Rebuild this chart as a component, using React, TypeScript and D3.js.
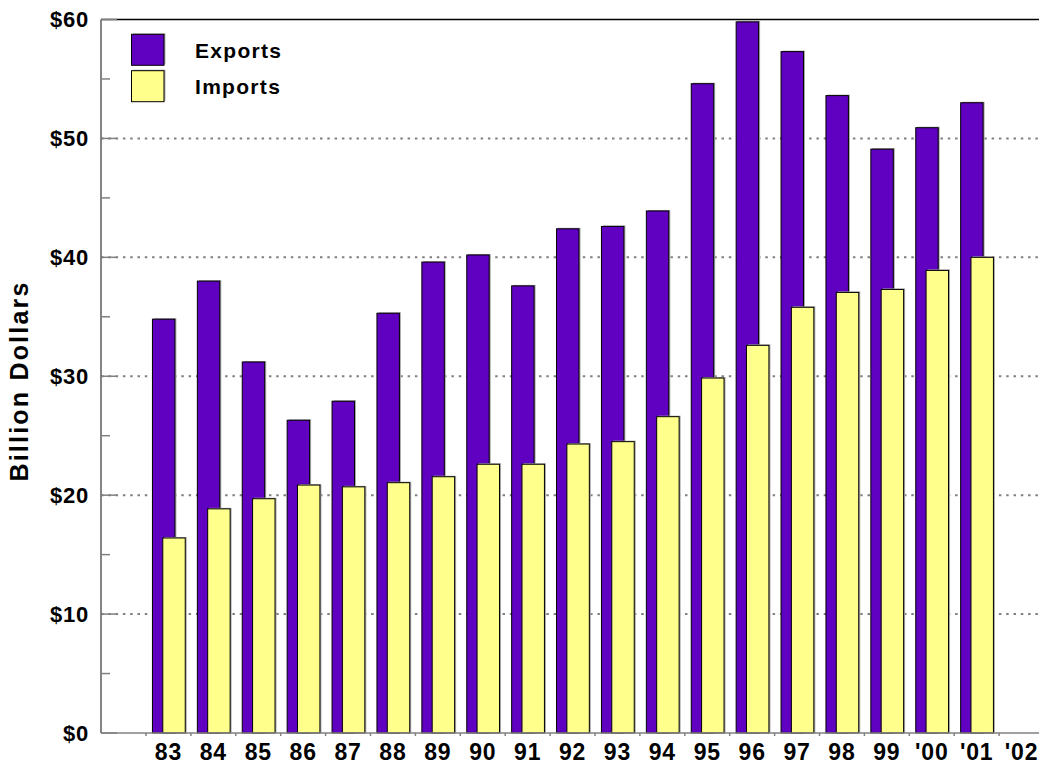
import * as d3 from "d3";
import { useEffect, useRef } from "react";

const years = ["83", "84", "85", "86", "87", "88", "89", "90", "91", "92", "93", "94", "95", "96", "97", "98", "99", "'00", "'01", "'02"];
// billion dollars; '02 has no data
const exportsVals: (number | null)[] = [34.8, 38.0, 31.2, 26.3, 27.9, 35.3, 39.6, 40.2, 37.6, 42.4, 42.6, 43.9, 54.6, 59.8, 57.3, 53.6, 49.1, 50.9, 53.0, null];
const importsVals: (number | null)[] = [16.4, 18.85, 19.7, 20.85, 20.7, 21.05, 21.55, 22.6, 22.6, 24.3, 24.5, 26.6, 29.85, 32.6, 35.8, 37.05, 37.3, 38.9, 40.0, null];
const yTicks = [0, 10, 20, 30, 40, 50, 60];
const yMinorTicks = [5, 15, 25, 35, 45, 55];
const seriesNames = ["Exports", "Imports"];
const seriesColors = ["#6000c0", "#ffff8c"];

const W = 1039;
const H = 766;
const FONT = "'Liberation Sans', Arial, Helvetica, sans-serif";

const App = () => {
  const ref = useRef<SVGSVGElement | null>(null);

  useEffect(() => {
    if (!ref.current) return;
    const svg = d3.select(ref.current);
    svg.selectAll("*").remove();

    const left = 101;
    const top = 19.5;
    const bottom = 733;

    svg.append("rect").attr("width", W).attr("height", H).attr("fill", "#fff");

    const x = d3.scaleBand<string>().domain(years).range([146, 1044]).padding(0);
    const y = d3.scaleLinear().domain([0, 60]).range([bottom, top]);
    const bw = x.bandwidth();

    // dotted grid
    svg
      .append("g")
      .selectAll("line")
      .data(yTicks.filter((d) => d > 0 && d < 60))
      .join("line")
      .attr("x1", left)
      .attr("x2", W)
      .attr("y1", (d) => y(d))
      .attr("y2", (d) => y(d))
      .attr("stroke", "#808080")
      .attr("stroke-width", 2)
      .attr("stroke-dasharray", "2.5,4.8");

    // bars (imports overlap the right part of exports)
    const barW = bw * 0.5;
    const off = bw * 0.23;
    const series = [exportsVals, importsVals];
    series.forEach((vals, si) => {
      const data = years
        .map((yr, i) => ({ yr, v: vals[i] }))
        .filter((d) => d.v != null) as { yr: string; v: number }[];
      const bx = (d: { yr: string }) => x(d.yr)! + bw / 2 - 16 + si * off;
      const g = svg.append("g");
      g.selectAll("rect.shadow")
        .data(data)
        .join("rect")
        .attr("class", "shadow")
        .attr("x", (d) => bx(d) + 1.5)
        .attr("y", (d) => y(d.v) - 1)
        .attr("width", barW)
        .attr("height", (d) => bottom - y(d.v) + 1)
        .attr("fill", "#a8a8a8");
      g.selectAll("rect.bar")
        .data(data)
        .join("rect")
        .attr("class", "bar")
        .attr("x", (d) => bx(d))
        .attr("y", (d) => y(d.v))
        .attr("width", barW)
        .attr("height", (d) => bottom - y(d.v))
        .attr("fill", seriesColors[si])
        .attr("stroke", "#000")
        .attr("stroke-width", 1);
    });

    // frame: left axis and top border
    svg
      .append("line")
      .attr("x1", left)
      .attr("x2", W)
      .attr("y1", top)
      .attr("y2", top)
      .attr("stroke", "#000")
      .attr("stroke-width", 1.5);
    svg
      .append("line")
      .attr("x1", left)
      .attr("x2", left)
      .attr("y1", top)
      .attr("y2", bottom)
      .attr("stroke", "#333")
      .attr("stroke-width", 1.2);

    // x axis baseline with small ticks at band edges
    svg
      .append("line")
      .attr("x1", left)
      .attr("x2", W)
      .attr("y1", bottom)
      .attr("y2", bottom)
      .attr("stroke", "#808080")
      .attr("stroke-width", 1.5);
    svg
      .append("g")
      .selectAll("line")
      .data(years)
      .join("line")
      .attr("x1", (d) => x(d)!)
      .attr("x2", (d) => x(d)!)
      .attr("y1", bottom)
      .attr("y2", bottom + 3)
      .attr("stroke", "#808080")
      .attr("stroke-width", 1.5);

    // y ticks, major and minor
    svg
      .append("g")
      .selectAll("line")
      .data(yTicks)
      .join("line")
      .attr("x1", left)
      .attr("x2", left + 16)
      .attr("y1", (d) => y(d))
      .attr("y2", (d) => y(d))
      .attr("stroke", "#808080")
      .attr("stroke-width", 1.5);
    svg
      .append("g")
      .selectAll("line")
      .data(yMinorTicks)
      .join("line")
      .attr("x1", left)
      .attr("x2", left + 9)
      .attr("y1", (d) => y(d))
      .attr("y2", (d) => y(d))
      .attr("stroke", "#808080")
      .attr("stroke-width", 1.5);

    svg
      .append("g")
      .selectAll("text")
      .data(yTicks)
      .join("text")
      .attr("x", 89)
      .attr("y", (d) => y(d))
      .attr("dy", "0.36em")
      .attr("text-anchor", "end")
      .attr("font-family", FONT)
      .attr("font-weight", "bold")
      .attr("font-size", 22)
      .attr("letter-spacing", 0.8)
      .text((d) => `$${d}`);

    svg
      .append("g")
      .selectAll("text")
      .data(years)
      .join("text")
      .attr("x", (d) => x(d)! + bw / 2)
      .attr("y", 760)
      .attr("text-anchor", "middle")
      .attr("font-family", FONT)
      .attr("font-weight", "bold")
      .attr("font-size", 23)
      .attr("letter-spacing", 0.8)
      .text((d) => d);

    svg
      .append("text")
      .attr("transform", "translate(28,381) rotate(-90)")
      .attr("text-anchor", "middle")
      .attr("font-family", FONT)
      .attr("font-weight", "bold")
      .attr("font-size", 25)
      .attr("letter-spacing", 2.2)
      .text("Billion Dollars");

    // legend
    const lg = svg.append("g");
    seriesNames.forEach((name, i) => {
      const sy = 34.3 + i * 36.4;
      lg.append("rect")
        .attr("x", 133)
        .attr("y", sy - 1)
        .attr("width", 32.5)
        .attr("height", 31)
        .attr("fill", "#b0b0b0");
      lg.append("rect")
        .attr("x", 131.5)
        .attr("y", sy)
        .attr("width", 32.5)
        .attr("height", 31)
        .attr("fill", seriesColors[i])
        .attr("stroke", "#000")
        .attr("stroke-width", 1);
      lg.append("text")
        .attr("x", 195)
        .attr("y", sy + 23.3)
        .attr("font-family", FONT)
        .attr("font-weight", "bold")
        .attr("font-size", 21)
        .attr("letter-spacing", 1.3)
        .text(name);
    });
  }, []);

  return (
    <svg
      ref={ref}
      width={W}
      height={H}
      style={{ position: "absolute", left: 0, top: 0, display: "block" }}
    />
  );
};

export default App;
